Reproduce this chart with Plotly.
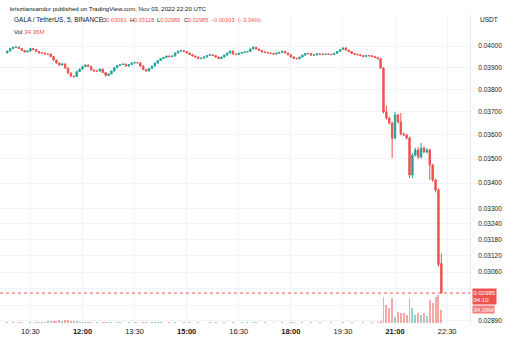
import math
import pandas as pd
import plotly.graph_objects as go

# ---------------- data ----------------
times = pd.date_range("2022-11-03 09:50", periods=151, freq="5min")

close = [
    0.03976, 0.03988, 0.03994, 0.03995, 0.03988, 0.03979, 0.03972, 0.03976, 0.03988, 0.03983,
    0.03974, 0.03967, 0.03967, 0.03962, 0.03962, 0.03950, 0.03934, 0.03920, 0.03911, 0.03916,
    0.03897, 0.03874, 0.03860, 0.03858, 0.03881, 0.03892, 0.03904, 0.03911, 0.03904, 0.03888,
    0.03883, 0.03883, 0.03892, 0.03876, 0.03863, 0.03870, 0.03883, 0.03899, 0.03909, 0.03913,
    0.03915, 0.03906, 0.03913, 0.03920, 0.03922, 0.03921, 0.03906, 0.03890, 0.03883, 0.03895,
    0.03906, 0.03920, 0.03932, 0.03941, 0.03946, 0.03953, 0.03950, 0.03953, 0.03967, 0.03976,
    0.03978, 0.03974, 0.03967, 0.03960, 0.03953, 0.03948, 0.03941, 0.03943, 0.03948, 0.03955,
    0.03959, 0.03955, 0.03948, 0.03941, 0.03948, 0.03957, 0.03967, 0.03976, 0.03962, 0.03960,
    0.03966, 0.03969, 0.03972, 0.03974, 0.03986, 0.03994, 0.03986, 0.03979, 0.03972, 0.03969,
    0.03967, 0.03965, 0.03962, 0.03966, 0.03970, 0.03975, 0.03967, 0.03959, 0.03948, 0.03942,
    0.03940, 0.03948, 0.03957, 0.03965, 0.03964, 0.03957, 0.03958, 0.03963, 0.03962, 0.03961,
    0.03962, 0.03961, 0.03960, 0.03965, 0.03974, 0.03983, 0.03991, 0.03981, 0.03974, 0.03965,
    0.03961, 0.03959, 0.03955, 0.03950, 0.03955, 0.03954, 0.03951, 0.03946, 0.03940, 0.03897,
    0.03699, 0.03673, 0.03651, 0.03587, 0.03686, 0.03656, 0.03604, 0.03600, 0.03587, 0.03433,
    0.03515, 0.03536, 0.03507, 0.03545, 0.03528, 0.03536, 0.03474, 0.03413, 0.03373, 0.03088,
    0.02985,
]
first_open = 0.03967
last_open = 0.03091

# wick lengths beyond the body, in units of 0.00001
wick_up = [
    2, 3, 2, 3, 2, 2, 3, 2, 3, 2,
    2, 2, 3, 2, 2, 2, 3, 2, 2, 3,
    2, 2, 3, 2, 3, 2, 2, 3, 2, 2,
    3, 2, 2, 2, 3, 2, 2, 3, 2, 2,
    3, 2, 2, 3, 2, 2, 2, 3, 2, 2,
    2, 3, 2, 2, 3, 2, 2, 2, 3, 2,
    3, 2, 2, 2, 3, 2, 2, 2, 3, 2,
    2, 3, 2, 2, 2, 3, 2, 3, 2, 2,
    2, 2, 3, 2, 2, 4, 2, 2, 3, 2,
    2, 2, 3, 2, 2, 3, 2, 2, 2, 3,
    2, 2, 3, 2, 2, 3, 2, 2, 2, 3,
    2, 2, 2, 3, 2, 2, 3, 2, 2, 2,
    2, 3, 2, 2, 3, 2, 2, 2, 3, 4,
    3, 27, 6, 5, 13, 5, 39, 6, 5, 6,
    8, 10, 12, 21, 6, 8, 6, 5, 5, 6, 37,
]
wick_dn = [
    2, 2, 3, 2, 2, 3, 2, 2, 2, 3,
    2, 2, 2, 3, 2, 2, 3, 2, 2, 3,
    3, 2, 3, 5, 2, 2, 2, 3, 2, 2,
    2, 3, 2, 2, 5, 2, 2, 2, 3, 2,
    2, 2, 3, 2, 2, 2, 3, 2, 3, 2,
    2, 2, 3, 2, 2, 2, 3, 2, 2, 2,
    3, 2, 2, 3, 2, 2, 3, 2, 2, 2,
    2, 2, 3, 2, 2, 2, 2, 3, 2, 2,
    2, 3, 2, 2, 2, 2, 3, 2, 2, 2,
    2, 2, 2, 3, 2, 2, 2, 3, 2, 2,
    3, 2, 2, 2, 3, 2, 2, 2, 2, 3,
    2, 2, 3, 2, 2, 2, 2, 2, 3, 2,
    2, 2, 3, 2, 2, 2, 3, 2, 3, 4,
    6, 8, 6, 84, 5, 6, 6, 5, 6, 12,
    12, 6, 8, 6, 5, 6, 61, 8, 10, 8, 0,
]

# volume in millions
volume = [
    2.5, 2, 3, 2, 2.5, 3, 2, 2, 3.5, 2,
    2.5, 3, 3, 4, 5, 6, 7, 6, 8, 7,
    9, 8, 7, 6, 5, 4, 3, 3, 2.5, 3,
    2, 3, 2, 2.5, 3, 4, 3, 2, 2.5, 3,
    2, 2, 3, 2, 2.5, 3, 2, 3, 3, 2,
    2.5, 4, 3, 2.5, 2, 2, 3, 2, 2.5, 2,
    2, 2.5, 2, 3, 2, 2, 2.5, 2, 2, 2,
    2.5, 2, 3, 2, 2, 2.5, 2, 2, 2.5, 2,
    2, 2.5, 2, 3, 2, 4, 3, 2, 2, 2.5,
    2, 2, 2.5, 2, 2, 3, 2, 2, 2.5, 3,
    2, 2, 2.5, 2, 2, 3, 2, 2, 2.5, 2,
    2, 2, 2.5, 2, 2, 2, 3, 2, 2, 2.5,
    2, 2, 2, 2.5, 2, 2, 2.5, 2, 3, 5,
    68, 47, 40, 65, 17, 30, 26, 26, 21, 65,
    40, 21, 26, 21, 26, 18, 60, 52, 67, 73, 34.36,
]

price_ticks = [0.04, 0.039, 0.038, 0.037, 0.036, 0.035, 0.034, 0.033, 0.0324,
               0.0318, 0.0312, 0.0306, 0.03, 0.0294, 0.0289]
# 0.03000 and 0.02940 are hidden behind the price / volume labels in the original
price_tick_text = ["0.04000", "0.03900", "0.03800", "0.03700", "0.03600", "0.03500",
                   "0.03400", "0.03300", "0.03240", "0.03180", "0.03120", "0.03060",
                   "", "", "0.02890"]
time_ticks = ["2022-11-03 10:30", "2022-11-03 12:00", "2022-11-03 13:30",
              "2022-11-03 15:00", "2022-11-03 16:30", "2022-11-03 18:00",
              "2022-11-03 19:30", "2022-11-03 21:00", "2022-11-03 22:30"]
time_tick_text = ["10:30", "<b>12:00</b>", "13:30", "<b>15:00</b>", "16:30",
                  "<b>18:00</b>", "19:30", "<b>21:00</b>", "22:30"]

last_price = 0.02985

# ---------------- derived ----------------
opens = [first_open] + close[:-1]
opens[-1] = last_open
highs = [max(o, c) + u * 1e-5 for o, c, u in zip(opens, close, wick_up)]
lows = [min(o, c) - d * 1e-5 for o, c, d in zip(opens, close, wick_dn)]

UP = "#26a69a"
DN = "#ef5350"
vol_colors = ["rgba(38,166,154,0.5)" if c >= o else "rgba(239,83,80,0.5)"
              for o, c in zip(opens, close)]

W, H = 523, 351
L, R, T, B = 0, 53, 15, 26
PW, PH = W - L - R, H - T - B
y_lo, y_hi = 0.028741, 0.041497
lg_lo, lg_hi = math.log10(y_lo), math.log10(y_hi)
x_range = ["2022-11-03 09:37:30", "2022-11-03 23:09:30"]


def px_x(x):
    return (x - L) / PW


def px_y(y):
    return (H - B - y) / PH


def price_to_paper(p):
    return (math.log10(p) - lg_lo) / (lg_hi - lg_lo)


fig = go.Figure()
fig.add_trace(go.Bar(
    x=times, y=volume, yaxis="y2", marker=dict(color=vol_colors, line=dict(width=0)),
    width=200000, hoverinfo="skip"))
fig.add_trace(go.Candlestick(
    x=times, open=opens, high=highs, low=lows, close=close,
    increasing=dict(line=dict(color=UP, width=1), fillcolor=UP),
    decreasing=dict(line=dict(color=DN, width=1), fillcolor=DN),
    whiskerwidth=0))
fig.add_trace(go.Scatter(
    x=x_range, y=[last_price, last_price], mode="lines",
    line=dict(color=DN, width=1, dash="dot"), hoverinfo="skip"))

font = "Liberation Sans, Arial, sans-serif"
red = "<span style='color:#ef5350'>%s</span>"
FS = 6.1

annotations = [
    dict(text="krisztiansandor published on TradingView.com, Nov 03, 2022 22:20 UTC",
         xref="paper", yref="paper", x=px_x(8), y=px_y(8), xanchor="left", yanchor="middle",
         showarrow=False, font=dict(size=FS, color="#131722", family=font)),
    dict(text="Vol " + red % "34.36M",
         xref="paper", yref="paper", x=px_x(12), y=px_y(31), xanchor="left", yanchor="middle",
         showarrow=False, font=dict(size=FS, color="#131722", family=font)),
    dict(text="USDT", xref="paper", yref="paper", x=px_x(478), y=px_y(20),
         xanchor="left", yanchor="middle", showarrow=False,
         font=dict(size=6.5, color="#131722", family=font)),
    dict(text="0.02985<br>04:10", xref="paper", yref="paper", x=px_x(472),
         y=price_to_paper(last_price), xanchor="left", yanchor="top", yshift=5,
         showarrow=False, bgcolor=DN, borderpad=0.5, align="left",
         font=dict(size=6, color="white", family=font)),
    dict(text="34.36M", xref="paper", yref="paper", x=px_x(472), y=px_y(309),
         xanchor="left", yanchor="middle", showarrow=False, bgcolor="rgba(239,83,80,0.75)",
         borderpad=0.5, font=dict(size=6, color="white", family=font)),
]

# legend line pieces, placed where they sit in the original
legend_pieces = [
    (12, "GALA / TetherUS, 5, BINANCE", 6.5),
    (100, "O" + red % "0.03091", 5.6),
    (128, "H" + red % "0.03128", 5.6),
    (155, "L" + red % "0.02985", 5.6),
    (182, "C" + red % "0.02985", 5.6),
    (209, red % "\u22120.00103", 5.6),
    (236, red % "(\u22123.34%)", 5.6),
]
for px, txt, fs in legend_pieces:
    annotations.append(dict(text=txt, xref="paper", yref="paper", x=px_x(px), y=px_y(20),
                            xanchor="left", yanchor="middle", showarrow=False,
                            font=dict(size=fs, color="#131722", family=font)))

fig.update_layout(
    width=W, height=H, margin=dict(l=L, r=R, t=T, b=B),
    paper_bgcolor="white", plot_bgcolor="white", showlegend=False,
    font=dict(family=font, color="#131722"),
    bargap=0,
    xaxis=dict(type="date", range=x_range, rangeslider=dict(visible=False),
               tickvals=time_ticks, ticktext=time_tick_text, showgrid=True,
               gridcolor="#f0f3fa", gridwidth=1, zeroline=False, showline=False,
               ticks="", tickfont=dict(size=7.5, color="#131722")),
    yaxis=dict(type="log", range=[lg_lo, lg_hi], side="right", tickvals=price_ticks,
               ticktext=price_tick_text, showgrid=True, gridcolor="#f0f3fa", gridwidth=1,
               zeroline=False, showline=True, linecolor="#e6e8ee", linewidth=1, ticks="",
               ticklabelstandoff=6, tickfont=dict(size=6.5, color="#131722")),
    yaxis2=dict(overlaying="y", range=[-4.4, 795.4], visible=False),
    annotations=annotations,
)

fig.write_html("out.html")
